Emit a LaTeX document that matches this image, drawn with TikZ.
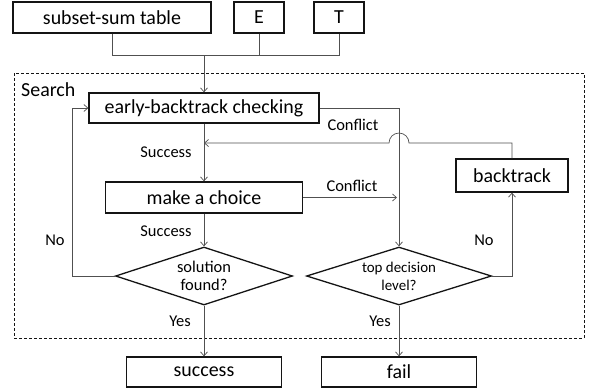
\documentclass[tikz,border=0pt]{standalone}
\usepackage{fontspec}
\setmainfont{Carlito}
\usetikzlibrary{arrows.meta,shapes.geometric}
\definecolor{ink}{HTML}{141414}
\definecolor{lead}{HTML}{505050}

\begin{document}
\begin{tikzpicture}[x=1bp,y=-1bp,>={Straight Barb[length=4bp,width=7bp]},
  box/.style={draw=ink,line width=1.3bp,minimum height=31bp,inner sep=0pt,
    font=\fontsize{20}{22}\selectfont},
  test/.style={draw=ink,line width=1.3bp,diamond,aspect=3,inner sep=0pt,
    minimum height=58bp,align=center,font=\fontsize{16.5}{18}\selectfont},
  wire/.style={draw=lead,line width=0.7bp},
  lbl/.style={inner sep=0pt,font=\fontsize{16.5}{18}\selectfont}]
 \def\colA{204}
 \def\colB{399}
 \useasboundingbox (0,0) rectangle (595,391);

 % inputs
 \node[box,minimum width=198bp] (tbl) at (112,17.5) {subset-sum table};
 \node[box,minimum width=50bp] (e) at (259,17.5) {E};
 \node[box,minimum width=50bp] (t) at (339,17.5) {T};
 \coordinate (jn) at (\colA,55);

 % search region
 \draw[ink,line width=0.8bp,dash pattern=on 3bp off 2bp] (14,73) rectangle (584,338);
 \node[anchor=west,inner sep=0pt,font=\fontsize{20}{22}\selectfont] (srch) at (21,90) {Search};

 \node[box,minimum width=230bp,minimum height=30bp] (ebc) at (\colA,108) {early-backtrack checking};
 \node[box,minimum width=197bp] (choice) at (\colA,197.5) {make a choice};
 \node[box,minimum width=112bp,minimum height=33bp] (back) at (512,175.5) {backtrack};
 \node[test,minimum width=177bp] (sol) at (\colA,276) {solution\\found?};
 \node[test,minimum width=185bp,font=\fontsize{15}{18}\selectfont] (top) at (\colB,276) {top decision\\level?};

 % outcomes
 \node[box,minimum width=155bp,minimum height=30bp] (succ) at (\colA,372) {success};
 \node[box,minimum width=155bp,minimum height=30bp] (fail) at (\colB,372) {fail};

 % connectors
 \draw[wire] (tbl.south) |- (t.south |- jn) -- (t.south);
 \draw[wire] (e.south) -- (e.south |- jn);
 \draw[wire,->] (jn) -- (ebc.north);
 \draw[wire,->] (ebc.south) -- (choice.north);
 \draw[wire,->] (ebc.east) -| (top.north);
 \draw[wire,->] (back.north) |- (\colB+10,143)
   arc[start angle=0,end angle=180,radius=10bp] -- (ebc.south |- 0,143);
 \draw[wire,->] (choice.east) -- ([xshift=-2bp]choice.east -| top.north);
 \draw[wire,->] (choice.south) -- (sol.north);
 \draw[wire,->] (sol.west) -- ++(-43,0) |- (ebc.west);
 \draw[wire,->] (top.east) -| (back.south);
 \draw[wire,->] (sol.south) -- (succ.north);
 \draw[wire,->] (top.south) -- (fail.north);

 % labels
 \node[lbl] (c1) at (353,125) {Conflict};
 \node[lbl] (s1) at (166,152) {Success};
 \node[lbl] (c2) at (352,186) {Conflict};
 \node[lbl] (s2) at (166,231) {Success};
 \node[lbl] (n1) at (55,240) {No};
 \node[lbl] (n2) at (484,240) {No};
 \node[lbl] (y1) at (180,321) {Yes};
 \node[lbl] (y2) at (380,321) {Yes};
\end{tikzpicture}
\end{document}
